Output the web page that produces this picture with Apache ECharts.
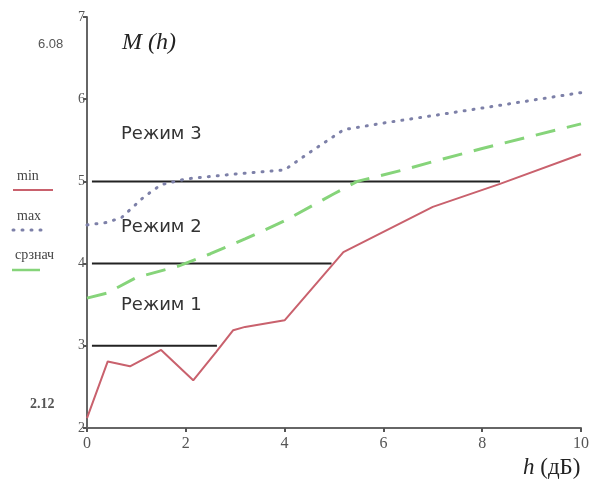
<!DOCTYPE html>
<html>
<head>
<meta charset="utf-8">
<script src="https://cdn.jsdelivr.net/npm/echarts@6/dist/echarts.min.js"></script>
<style>html,body{margin:0;padding:0;background:#fff;}#c{width:601px;height:490px;}</style>
</head>
<body>
<div id="c"></div>
<script>
// h (dB) and M(h) values
var minSeries = [[0,2.12],[0.42,2.81],[0.87,2.75],[1.5,2.95],[2.15,2.58],[2.62,2.93],[2.96,3.19],[3.2,3.23],[4.0,3.31],[5.19,4.14],[7.0,4.69],[8.36,4.97],[10,5.33]];
var maxSeries = [[0,4.47],[0.4,4.5],[0.7,4.56],[1.15,4.81],[1.5,4.96],[2,5.03],[3,5.09],[4,5.14],[4.5,5.35],[5.2,5.63],[6,5.71],[7,5.8],[8.4,5.93],[10,6.08]];
var avgSeries = [[0,3.58],[0.4,3.64],[1,3.83],[1.85,3.97],[2.5,4.12],[3.2,4.3],[4,4.52],[5,4.85],[5.47,5.0],[6.4,5.14],[7,5.24],[8,5.4],[9,5.55],[10,5.7]];
// regime boundary lines: [level, h where it ends]
var regimeLines = [[5,8.36],[4,4.95],[3,2.63]];
var regimeLabels = ['Режим 3','Режим 2','Режим 1'];
var legendNames = ['min','max','срзнач'];
var xTicks = [0,2,4,6,8,10];
var yTicks = [2,3,4,5,6,7];
var rangeLabels = ['6.08','2.12'];

var chart = echarts.init(document.getElementById('c'));
var lineSeries = regimeLines.map(function(r){
  return {type:'line', data:[[0.1,r[0]],[r[1],r[0]]], symbol:'none', silent:true,
    lineStyle:{color:'#222', width:2}, z:1};
});
var option = {
  animation:false,
  backgroundColor:'#fff',
  grid:{left:87, right:20, top:17, bottom:62},
  xAxis:{type:'value', min:0, max:10, interval:2,
    axisLine:{lineStyle:{color:'#666', width:2}},
    axisTick:{show:true, inside:false, length:4, lineStyle:{color:'#555', width:2}},
    axisLabel:{color:'#555', fontFamily:'Liberation Serif', fontSize:16, margin:8,
      formatter:function(v){return xTicks.indexOf(v)>=0? String(v):'';}},
    splitLine:{show:false}},
  yAxis:{type:'value', min:2, max:7, interval:1,
    axisLine:{show:true, lineStyle:{color:'#666', width:2}},
    axisTick:{show:true, length:4, lineStyle:{color:'#555', width:2}},
    axisLabel:{color:'#555', fontFamily:'Liberation Serif', fontSize:14, margin:2,
      formatter:function(v){return yTicks.indexOf(v)>=0? String(v):'';}},
    splitLine:{show:false}},
  series: lineSeries.concat([
    {name:'min', type:'line', data:minSeries, symbol:'none', lineStyle:{color:'#c9616d', width:2}, z:3},
    {name:'max', type:'line', data:maxSeries, symbol:'none', lineStyle:{color:'#7d80a8', width:3, type:[1,8], cap:'round'}, z:3},
    {name:'срзнач', type:'line', data:avgSeries, symbol:'none', lineStyle:{color:'#86d47a', width:3, type:[20,12]}, z:3}
  ]),
  graphic:[
    {type:'text', left:122, top:31, style:{text:'M (h)', font:'italic 24px "Liberation Serif"', fill:'#222'}},
    {type:'text', left:523, top:456, style:{
      rich:{i:{fontFamily:'Liberation Serif', fontStyle:'italic', fontSize:23, fill:'#222'},
            n:{fontFamily:'Liberation Serif', fontSize:23, fill:'#222'}},
      text:'{i|h}{n|\u00a0(дБ)}'}},
    {type:'text', left:38, top:38, style:{text:rangeLabels[0], font:'13px "Liberation Sans"', fill:'#555'}},
    {type:'text', left:30, top:397, style:{text:rangeLabels[1], font:'bold 14px "Liberation Serif"', fill:'#555'}},
    {type:'text', left:121, top:125, style:{text:regimeLabels[0], font:'18px "DejaVu Sans"', fill:'#333'}},
    {type:'text', left:121, top:218, style:{text:regimeLabels[1], font:'18px "DejaVu Sans"', fill:'#333'}},
    {type:'text', left:121, top:296, style:{text:regimeLabels[2], font:'18px "DejaVu Sans"', fill:'#333'}},
    {type:'text', left:17, top:169, style:{text:legendNames[0], font:'14px "Liberation Serif"', fill:'#444'}},
    {type:'line', shape:{x1:13,y1:190,x2:53,y2:190}, style:{stroke:'#c9616d', lineWidth:2}},
    {type:'text', left:17, top:209, style:{text:legendNames[1], font:'14px "Liberation Serif"', fill:'#444'}},
    {type:'line', shape:{x1:13,y1:230,x2:48,y2:230}, style:{stroke:'#7d80a8', lineWidth:3, lineDash:[1,8], lineCap:'round'}},
    {type:'text', left:15, top:248, style:{text:legendNames[2], font:'14px "Liberation Serif"', fill:'#444'}},
    {type:'line', shape:{x1:12,y1:270,x2:40,y2:270}, style:{stroke:'#86d47a', lineWidth:2.5}}
  ]
};
chart.setOption(option);
</script>
</body>
</html>
